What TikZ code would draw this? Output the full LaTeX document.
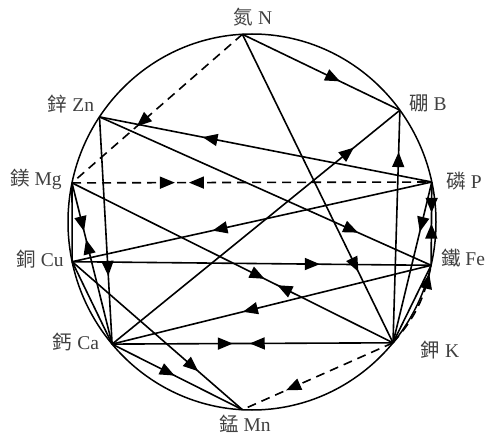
\documentclass[tikz,border=0pt]{standalone}
\usepackage{fontspec}
\setmainfont{Liberation Serif}
\newfontfamily\cjk{Noto Sans CJK TC}
\usetikzlibrary{arrows.meta,decorations.markings}
\tikzset{
  tri/.tip={Triangle[length=15pt,width=12pt]},
  conn/.style={line width=1.6pt},
  dconn/.style={line width=1.6pt, dash pattern=on 9pt off 6pt},
  fwd/.style={postaction={decorate,decoration={markings,mark=at position #1 with {\arrow{tri}}}}},
  bwd/.style={postaction={decorate,decoration={markings,mark=at position #1 with {\arrowreversed{tri}}}}},
  lab/.style={font=\fontsize{19.5}{20}\selectfont, text=black!75, inner sep=0pt, anchor=center},
}
\begin{document}
\begin{tikzpicture}[x=1pt,y=1pt]
\fill[white] (0,0) rectangle (490,437);
\useasboundingbox (0,0) rectangle (490,437);
\coordinate (C) at (252,215);
\coordinate (N) at (242.4,402.7);
\coordinate (B) at (399.9,326.8);
\coordinate (P) at (431.8,255.0);
\coordinate (Fe) at (431.1,171.7);
\coordinate (K) at (393.0,94.2);
\coordinate (Mn) at (242.4,27.3);
\coordinate (Ca) at (112.1,92.9);
\coordinate (Cu) at (72.2,175.3);
\coordinate (Mg) at (72.0,254.1);
\coordinate (Zn) at (99.5,320.1);
\draw[line width=1.5pt] (C) ellipse [x radius=184, y radius=188];
% labels
\node[lab] (lN) at (253,420) {{\cjk 氮} N};
\node[lab] (lB) at (428,334) {{\cjk 硼} B};
\node[lab] (lP) at (464,256) {{\cjk 磷} P};
\node[lab] (lFe) at (463,179) {{\cjk 鐵} Fe};
\node[lab] (lK) at (440,87) {{\cjk 鉀} K};
\node[lab] (lMn) at (245,13) {{\cjk 錳} Mn};
\node[lab] (lCa) at (76,95) {{\cjk 鈣} Ca};
\node[lab] (lCu) at (40,178) {{\cjk 銅} Cu};
\node[lab] (lMg) at (36,258) {{\cjk 鎂} Mg};
\node[lab] (lZn) at (71,333) {{\cjk 鋅} Zn};
% connectors
\draw[dconn, fwd=0.62] (N) -- (Mg);
\draw[conn, fwd=0.62] (N) -- (B);
\draw[conn, fwd=0.77] (N) -- (K);
\draw[conn, fwd=0.69] (P) -- (Zn);
\draw[conn, fwd=0.78] (Zn) -- (Fe);
\draw[conn, fwd=0.70] (Zn) -- (Ca);
\draw[dconn, fwd=0.286, bwd=0.325] (Mg) -- (P);
\draw[conn, fwd=0.60, bwd=0.64] (Mg) -- (K);
\draw[conn, fwd=0.43, bwd=0.49] (Ca) -- (K);
\draw[conn, fwd=0.84] (Ca) -- (B);
\draw[conn, fwd=0.82] (K) -- (B);
\draw[conn, fwd=0.61] (P) -- (Cu);
\draw[conn, fwd=0.69] (Cu) -- (Fe);
\draw[conn, fwd=0.59] (Fe) -- (Ca);
\draw[conn, fwd=0.48] (Ca) -- (Mn);
\draw[conn, fwd=0.74] (Cu) -- (Mn);
\draw[conn, fwd=0.31] (P) -- (K);
\draw[conn, fwd=0.37, bwd=0.50] (P) -- (Fe);
\draw[conn] (K) -- (Fe);
\draw[dconn, fwd=0.9] (K) to[bend right=15] (Fe);
\draw[dconn, fwd=0.71] (K) -- (Mn);
\draw[conn, fwd=0.30, bwd=0.35] (Mg) -- (Ca);
\draw[conn] (Mg) -- (Cu);
\draw[conn] (Cu) -- (Ca);
\end{tikzpicture}
\end{document}
